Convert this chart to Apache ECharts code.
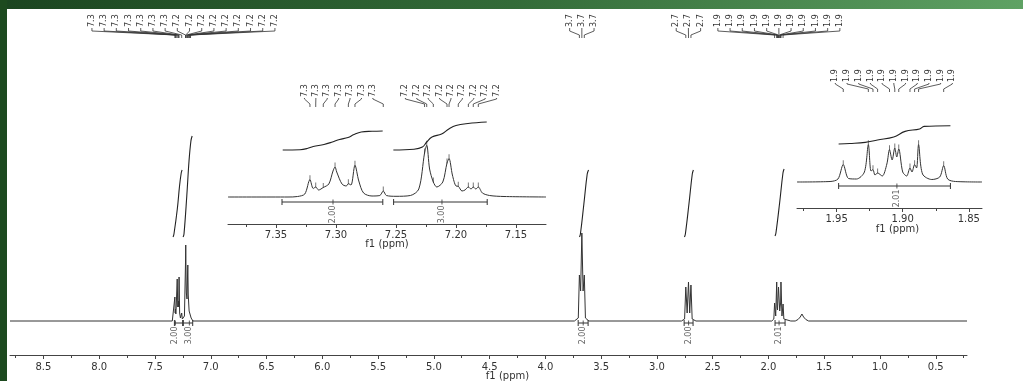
<!DOCTYPE html>
<html>
<head>
<meta charset="utf-8">
<script src="https://cdn.jsdelivr.net/npm/echarts@6/dist/echarts.min.js"></script>
<style>
html, body { margin: 0; padding: 0; background: #fff; }
#nmr { width: 1023px; height: 381px; }
</style>
</head>
<body>
<div id="nmr"></div>
<script>
const FONT = 'DejaVu Sans';
const INK = '#333';

// ---- main spectrum: [ppm, height above baseline]
let mainSpectrum = [
  [8.80, 0], [7.345, 0], [7.328, 2], [7.3217, 24], [7.319, 8], [7.3169, 12], [7.313, 7], [7.3106, 12],
  [7.306, 14], [7.3008, 42], [7.296, 14], [7.2897, 20], [7.287, 14], [7.2842, 44], [7.279, 8], [7.272, 3],
  [7.2606, 8], [7.255, 2], [7.236, 5], [7.2262, 60], [7.2244, 76], [7.221, 40], [7.2189, 28], [7.213, 22],
  [7.2075, 50], [7.2058, 56], [7.202, 26], [7.1981, 18], [7.194, 10], [7.1897, 12], [7.1856, 11], [7.1814, 10],
  [7.176, 3], [7.16, 0],
  [3.74, 0], [3.705, 3], [3.695, 46], [3.684, 30], [3.673, 88], [3.662, 30], [3.651, 46], [3.641, 3], [3.61, 0],
  [2.78, 0], [2.752, 2], [2.741, 34], [2.729, 8], [2.717, 39], [2.706, 8], [2.695, 36], [2.684, 2], [2.65, 0],
  [1.97, 0], [1.952, 2], [1.945, 18], [1.935, 5], [1.926, 39], [1.9225, 14], [1.919, 11], [1.914, 9], [1.910, 34],
  [1.906, 36], [1.903, 35], [1.899, 10], [1.8945, 15], [1.891, 18], [1.888, 39], [1.879, 5], [1.869, 17], [1.862, 2], [1.80, 0],
  [1.76, 0], [1.735, 1.5], [1.715, 4], [1.70, 7], [1.685, 4], [1.665, 1.5], [1.64, 0],
  [0.22, 0]
];
let mainIntegrals = [
  [[7.338, 84], [7.33, 87], [7.30, 112], [7.28, 135], [7.265, 148], [7.257, 151]],
  [[7.248, 84], [7.24, 87], [7.215, 125], [7.195, 160], [7.178, 180], [7.167, 185]],
  [[3.694, 84], [3.686, 87], [3.655, 117], [3.625, 147], [3.613, 151]],
  [[2.753, 84], [2.745, 87], [2.713, 117], [2.683, 147], [2.673, 151]],
  [[1.941, 85], [1.933, 88], [1.90, 118], [1.87, 148], [1.86, 152]]
];
let mainIntegralBars = [[7.326, 7.252], [7.246, 7.162], [3.706, 3.617], [2.756, 2.676], [1.941, 1.851]];
let mainIntegralLabelAt = [7.317, 7.192, 3.661, 2.716, 1.905];
let mainIntegralValues = ['2.00', '3.00', '2.00', '2.00', '2.01'];

// picked peaks
let aromPeaks = [7.3217, 7.3169, 7.3106, 7.3008, 7.2897, 7.2842, 7.2606,
  7.2262, 7.2244, 7.2189, 7.2075, 7.2058, 7.1981, 7.1897, 7.1856, 7.1814];
let ch2oPeaks = [3.695, 3.673, 3.651];
let ch2phPeaks = [2.741, 2.717, 2.695];
let ch2Peaks = [1.945, 1.926, 1.9225, 1.919, 1.910, 1.906, 1.903, 1.8945, 1.891, 1.888, 1.869];

let mainTicks = [0.5, 1.0, 1.5, 2.0, 2.5, 3.0, 3.5, 4.0, 4.5, 5.0, 5.5, 6.0, 6.5, 7.0, 7.5, 8.0, 8.5];
let mainMinorTicks = [0.25, 0.75, 1.25, 1.75, 2.25, 2.75, 3.25, 3.75, 4.25, 4.75, 5.25, 5.75, 6.25, 6.75, 7.25, 7.75, 8.25, 8.75];

// ---- inset 1 (aromatic)
let inset1Spectrum = [
  [7.39, 0], [7.34, 0], [7.332, 0.5], [7.326, 3], [7.3217, 17.3], [7.319, 8.5], [7.3169, 10], [7.3145, 7],
  [7.3106, 9.5], [7.306, 13], [7.3025, 26], [7.3008, 30], [7.2994, 25], [7.295, 13], [7.2915, 11], [7.2897, 13.3],
  [7.2875, 12], [7.2842, 31.7], [7.281, 16], [7.277, 4], [7.27, 1], [7.2635, 1.5], [7.2606, 6], [7.258, 1.5],
  [7.25, 0.7], [7.238, 1.5], [7.231, 8], [7.2262, 44], [7.2244, 51.7], [7.222, 28], [7.2189, 15], [7.216, 10],
  [7.211, 15], [7.2075, 34], [7.2058, 38.3], [7.203, 22], [7.2, 11], [7.1981, 10.7], [7.195, 6], [7.1925, 7],
  [7.1897, 10], [7.1875, 8], [7.1856, 10], [7.1835, 8], [7.1814, 10], [7.178, 4], [7.172, 1.5], [7.16, 0.5], [7.125, 0]
];
let inset1PeakHeights = [17.3, 10, 9.5, 30, 13.3, 31.7, 6, 44, 51.7, 15, 34, 38.3, 10.7, 10, 10, 10];
let inset1Integrals = [
  [[7.3444, 47], [7.33, 47.3], [7.324, 48.5], [7.319, 50.5], [7.31, 52.5], [7.303, 55], [7.297, 57.5],
   [7.29, 59.5], [7.285, 62.5], [7.279, 65], [7.27, 65.7], [7.2611, 66]],
  [[7.2522, 47], [7.235, 47.8], [7.228, 50], [7.2244, 55], [7.22, 60], [7.212, 63], [7.206, 68],
   [7.2, 71.5], [7.19, 73.5], [7.1744, 75]]
];
let inset1Bars = [[7.345, 7.261], [7.252, 7.174]];
let inset1LabelAt = [7.3025, 7.2117];
let inset1Values = ['2.00', '3.00'];
let inset1Ticks = [7.15, 7.20, 7.25, 7.30, 7.35];
let inset1MinorTicks = [7.175, 7.225, 7.275, 7.325, 7.375];

// ---- inset 2 (1.9 multiplet)
let inset2Spectrum = [
  [1.98, 0], [1.955, 0.5], [1.949, 3], [1.945, 17.3], [1.941, 3.5], [1.935, 3], [1.929, 10], [1.926, 37.3],
  [1.924, 11], [1.9225, 12.3], [1.921, 7], [1.919, 9], [1.9155, 6], [1.912, 18], [1.910, 32.3], [1.908, 22],
  [1.906, 34], [1.9045, 25], [1.903, 33], [1.900, 10], [1.897, 6], [1.8945, 14], [1.893, 10], [1.891, 17.3],
  [1.8895, 14], [1.888, 37.3], [1.885, 8], [1.878, 2.5], [1.872, 5], [1.869, 16.3], [1.866, 3], [1.86, 0.5], [1.84, 0]
];
let inset2PeakHeights = [17.3, 37.3, 12.3, 9, 32.3, 34, 33, 14, 17.3, 37.3, 16.3];
let inset2Integrals = [
  [[1.9485, 38], [1.94, 38.5], [1.9284, 39.6], [1.9191, 42], [1.9068, 45], [1.8982, 50.6],
   [1.8872, 53], [1.8838, 55.6], [1.8639, 56.3]]
];
let inset2Bars = [[1.9485, 1.8639]];
let inset2LabelAt = [1.9044];
let inset2Values = ['2.01'];
let inset2Ticks = [1.85, 1.90, 1.95];
let inset2MinorTicks = [1.875, 1.925, 1.975];

function ppmAxis(grid, min, max, ticks, digits, margin, nameGap, namePad) {
  return {
    gridIndex: grid, type: 'value', min: min, max: max, inverse: true, position: 'bottom',
    axisLine: { show: true, onZero: false, lineStyle: { color: '#444', width: 1 } },
    axisTick: { show: true, customValues: ticks, length: 4, lineStyle: { color: '#444' } },
    axisLabel: { customValues: ticks, formatter: v => v.toFixed(digits), margin: margin,
      color: INK, fontFamily: FONT, fontSize: 10 },
    splitLine: { show: false },
    name: 'f1 (ppm)', nameLocation: 'middle', nameGap: nameGap, nameMoveOverlap: false,
    nameTextStyle: { color: INK, fontFamily: FONT, fontSize: 10, padding: [0, 0, 0, namePad] }
  };
}
function minorAxis(grid, min, max, ticks) {
  return {
    gridIndex: grid, type: 'value', min: min, max: max, inverse: true, position: 'bottom',
    axisLine: { show: false, onZero: false },
    axisTick: { show: true, customValues: ticks, length: 3, lineStyle: { color: '#444' } },
    axisLabel: { show: false }, splitLine: { show: false }
  };
}

function spectrumSeries(xi, yi, data, smooth) {
  return { type: 'line', xAxisIndex: xi, yAxisIndex: yi, data: data, symbol: 'none', smooth: smooth,
    lineStyle: { color: INK, width: 1 }, silent: true, z: 3 };
}
function integralSeries(xi, yi, curves) {
  return curves.map(c => ({ type: 'line', xAxisIndex: xi, yAxisIndex: yi, data: c, symbol: 'none',
    smooth: 0.4, lineStyle: { color: '#222', width: 1.1 }, silent: true }));
}
function barSeries(xi, yi, bars, h) {
  return bars.map(b => ({ type: 'line', xAxisIndex: xi, yAxisIndex: yi, data: [[b[0], h], [b[1], h]],
    symbol: 'rect', symbolSize: [1, 6], showAllSymbol: true, itemStyle: { color: INK },
    lineStyle: { color: INK, width: 1 }, silent: true }));
}
function valueSeries(xi, yi, at, vals, h) {
  return { type: 'scatter', xAxisIndex: xi, yAxisIndex: yi, symbol: 'rect', symbolSize: [1, 5],
    itemStyle: { color: INK }, silent: true,
    data: at.map((x, i) => ({ value: [x, h], name: vals[i] })),
    label: { show: true, position: 'bottom', distance: 1, rotate: 90, align: 'right', verticalAlign: 'middle',
      formatter: p => p.name, color: INK, fontFamily: FONT, fontSize: 8 } };
}
function markerSeries(xi, yi, peaks, heights) {
  return { type: 'scatter', xAxisIndex: xi, yAxisIndex: yi, symbol: 'rect', symbolSize: [1, 5],
    itemStyle: { color: '#555' }, silent: true, data: peaks.map((p, i) => [p, heights[i] + 2]) };
}
// peak label trees: rotated labels spread evenly over the group, lines down to each peak
function treeSeries(xi, yi, groups, lv) {
  return {
    type: 'custom', xAxisIndex: xi, yAxisIndex: yi, silent: true, z: 4,
    data: groups.map((g, i) => [g[0], 0, i]),
    renderItem: function (params, api) {
      let peaks = groups[api.value(2)];
      let top = params.coordSys.y;
      let px = peaks.map(p => api.coord([p, 0])[0]);
      let mid = px.reduce((a, b) => a + b, 0) / px.length;
      let kids = [];
      peaks.forEach((p, k) => {
        let lx = mid + (k - (peaks.length - 1) / 2) * lv.gap;
        kids.push({ type: 'text', x: lx, y: top + lv.label, rotation: Math.PI / 2,
          style: { text: p.toFixed(1), fill: INK, font: '8px "DejaVu Sans"', align: 'left', verticalAlign: 'middle' } });
        kids.push({ type: 'polyline',
          shape: { points: [[lx, top + lv.label + 1], [lx, top + lv.knee], [px[k], top + lv.foot], [px[k], top + lv.end]] },
          style: { stroke: INK, lineWidth: 0.8, fill: null } });
      });
      return { type: 'group', children: kids };
    }
  };
}

let chart = echarts.init(document.getElementById('nmr'));
chart.setOption({
  animation: false,
  backgroundColor: '#fff',
  graphic: [
    { type: 'rect', left: 0, top: 0, z: 100, shape: { width: 1023, height: 9 },
      style: { fill: new echarts.graphic.LinearGradient(0, 0, 1, 0, [
        { offset: 0, color: '#1b4520' }, { offset: 0.5, color: '#336b38' }, { offset: 1, color: '#5fa264' }]) } },
    { type: 'rect', left: 0, top: 0, z: 100, shape: { width: 7, height: 381 }, style: { fill: '#1d4a1f' } }
  ],
  grid: [
    { left: 10, right: 56, top: 0, bottom: 26, outerBoundsMode: 'none' },
    { left: 228, right: 477, top: 80, bottom: 157, outerBoundsMode: 'none' },
    { left: 797, right: 41, top: 60, bottom: 173, outerBoundsMode: 'none' }
  ],
  xAxis: [
    ppmAxis(0, 0.22, 8.80, mainTicks, 1, 7, 16, 38),
    minorAxis(0, 0.22, 8.80, mainMinorTicks),
    ppmAxis(1, 7.125, 7.39, inset1Ticks, 2, 6, 15, 0),
    minorAxis(1, 7.125, 7.39, inset1MinorTicks),
    ppmAxis(2, 1.84, 1.98, inset2Ticks, 2, 6, 16, 16),
    minorAxis(2, 1.84, 1.98, inset2MinorTicks)
  ],
  yAxis: [
    { gridIndex: 0, type: 'value', min: -34, max: 321, show: false },
    { gridIndex: 1, type: 'value', min: -27, max: 117, show: false },
    { gridIndex: 2, type: 'value', min: -26, max: 122, show: false }
  ],
  series: [
    spectrumSeries(0, 0, mainSpectrum, false),
    ...integralSeries(0, 0, mainIntegrals),
    ...barSeries(0, 0, mainIntegralBars, -2),
    valueSeries(0, 0, mainIntegralLabelAt, mainIntegralValues, -2),
    treeSeries(0, 0, [aromPeaks, ch2oPeaks, ch2phPeaks, ch2Peaks], { label: 27, knee: 31, foot: 35, end: 38, gap: 12.2 }),

    spectrumSeries(2, 1, inset1Spectrum, 0.3),
    ...integralSeries(2, 1, inset1Integrals),
    ...barSeries(2, 1, inset1Bars, -5),
    valueSeries(2, 1, inset1LabelAt, inset1Values, -5),
    markerSeries(2, 1, aromPeaks, inset1PeakHeights),
    treeSeries(2, 1, [aromPeaks.slice(0, 7), aromPeaks.slice(7)], { label: 17, knee: 19, foot: 24, end: 27, gap: 11.4 }),

    spectrumSeries(4, 2, inset2Spectrum, 0.3),
    ...integralSeries(4, 2, inset2Integrals),
    ...barSeries(4, 2, inset2Bars, -4),
    valueSeries(4, 2, inset2LabelAt, inset2Values, -4),
    markerSeries(4, 2, ch2Peaks, inset2PeakHeights),
    treeSeries(4, 2, [ch2Peaks], { label: 22, knee: 24, foot: 29, end: 32, gap: 11.7 })
  ]
});
</script>
</body>
</html>
